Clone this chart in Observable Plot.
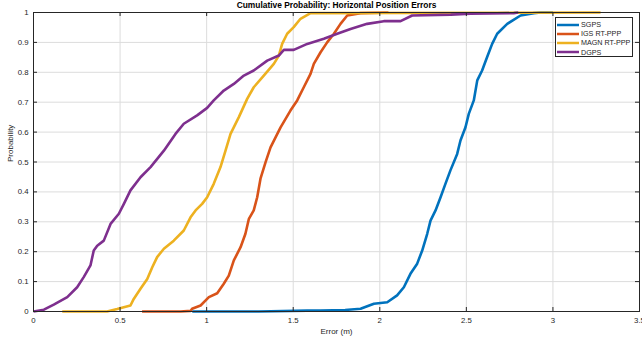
<!DOCTYPE html>
<html>
<head>
<meta charset="utf-8">
<script src="https://cdn.jsdelivr.net/npm/d3@7"></script>
<script src="https://cdn.jsdelivr.net/npm/@observablehq/plot@0.6"></script>
<style>
  body { margin: 0; background: #fff; font-family: "Liberation Sans", Arial, sans-serif; }
  #wrap { position: relative; width: 642px; height: 338px; }
  #legend { position: absolute; left: 555px; top: 17px; width: 78px; height: 40px; border: 1px solid #262626; background: #fff; box-sizing: border-box; padding-top: 2px; overflow: hidden; }
  .row { display: flex; align-items: center; height: 9.2px; font-size: 7.2px; color: #262626; line-height: 9px; white-space: nowrap; }
  .row svg { margin-left: 1px; margin-right: 2px; flex: none; }
</style>
</head>
<body>
<div id="wrap"></div>
<script>
const title = "Cumulative Probability: Horizontal Position Errors";
const xLabel = "Error (m)";
const yLabel = "Probability";
const xTicks = [0, 0.5, 1, 1.5, 2, 2.5, 3, 3.5];
const xTickLabels = ["0", "0.5", "1", "1.5", "2", "2.5", "3", "3.5"];
const yTicks = [0, 0.1, 0.2, 0.3, 0.4, 0.5, 0.6, 0.7, 0.8, 0.9, 1];
const yTickLabels = ["0", "0.1", "0.2", "0.3", "0.4", "0.5", "0.6", "0.7", "0.8", "0.9", "1"];

const seriesNames = ["SGPS", "IGS RT-PPP", "MAGN RT-PPP", "DGPS"];
const seriesColors = ["#0072BD", "#D95319", "#EDB120", "#7E2F8E"];

const sgpsX = [0.917, 1.3, 1.58, 1.658, 1.8, 1.889, 1.966, 2.043, 2.1, 2.139, 2.177, 2.216, 2.245, 2.274, 2.293, 2.322, 2.351, 2.379, 2.408, 2.447, 2.466, 2.495, 2.514, 2.543, 2.563, 2.591, 2.62, 2.649, 2.678, 2.736, 2.813, 2.89, 2.93, 3.0];
const sgpsY = [0, 0, 0.003, 0.003, 0.005, 0.009, 0.026, 0.031, 0.054, 0.081, 0.126, 0.16, 0.204, 0.26, 0.304, 0.338, 0.382, 0.427, 0.472, 0.527, 0.572, 0.616, 0.661, 0.706, 0.773, 0.806, 0.851, 0.895, 0.929, 0.962, 0.99, 0.998, 1, 1];

const igsX = [0.627, 0.85, 0.907, 0.916, 0.965, 1.013, 1.061, 1.099, 1.128, 1.157, 1.196, 1.224, 1.244, 1.272, 1.292, 1.311, 1.34, 1.369, 1.427, 1.484, 1.523, 1.561, 1.6, 1.619, 1.658, 1.696, 1.735, 1.773, 1.812, 1.889, 2.05];
const igsY = [0, 0, 0.002, 0.009, 0.02, 0.048, 0.061, 0.093, 0.12, 0.171, 0.215, 0.26, 0.31, 0.338, 0.382, 0.444, 0.499, 0.549, 0.616, 0.672, 0.706, 0.75, 0.795, 0.828, 0.867, 0.9, 0.929, 0.962, 0.99, 0.998, 1];

const magnX = [0.166, 0.425, 0.483, 0.56, 0.579, 0.618, 0.657, 0.686, 0.714, 0.753, 0.81, 0.868, 0.907, 0.936, 0.974, 1.003, 1.041, 1.08, 1.109, 1.138, 1.186, 1.234, 1.272, 1.33, 1.388, 1.417, 1.436, 1.465, 1.503, 1.542, 1.6, 3.275];
const magnY = [0, 0, 0.008, 0.02, 0.042, 0.076, 0.109, 0.148, 0.182, 0.21, 0.237, 0.271, 0.315, 0.338, 0.36, 0.382, 0.427, 0.483, 0.538, 0.594, 0.65, 0.711, 0.75, 0.789, 0.828, 0.856, 0.895, 0.929, 0.951, 0.979, 0.998, 1];

const dgpsX = [0, 0.06, 0.117, 0.195, 0.252, 0.29, 0.329, 0.348, 0.368, 0.406, 0.445, 0.493, 0.522, 0.56, 0.618, 0.676, 0.753, 0.82, 0.868, 0.945, 1.003, 1.041, 1.099, 1.157, 1.215, 1.272, 1.35, 1.417, 1.446, 1.503, 1.581, 1.677, 1.754, 1.831, 1.927, 2.023, 2.12, 2.187, 2.41, 2.524, 2.774, 2.8];
const dgpsY = [0, 0.006, 0.023, 0.048, 0.081, 0.115, 0.154, 0.204, 0.22, 0.237, 0.293, 0.327, 0.36, 0.405, 0.449, 0.483, 0.538, 0.594, 0.628, 0.656, 0.681, 0.706, 0.739, 0.761, 0.789, 0.806, 0.839, 0.856, 0.875, 0.875, 0.895, 0.912, 0.929, 0.945, 0.962, 0.971, 0.971, 0.99, 0.993, 0.996, 0.998, 1];

const allX = [sgpsX, igsX, magnX, dgpsX];
const allY = [sgpsY, igsY, magnY, dgpsY];
const rows = [];
seriesNames.forEach((name, s) => {
  allX[s].forEach((x, i) => rows.push({series: name, x, y: allY[s][i]}));
});

const W = 642, H = 338, mL = 33, mR = 3, mT = 12, mB = 27;
const innerW = W - mL - mR, innerH = H - mT - mB;
const ink = "#262626";

const chart = Plot.plot({
  width: W, height: H,
  marginLeft: mL, marginRight: mR, marginTop: mT, marginBottom: mB,
  style: {fontFamily: "'Liberation Sans', Arial, sans-serif", fontSize: "7.8px", color: ink, background: "#fff"},
  x: {domain: [0, 3.5], label: null},
  y: {domain: [0, 1], label: null},
  color: {domain: seriesNames, range: seriesColors},
  marks: [
    Plot.gridX(xTicks, {stroke: "#dcdcdc", strokeOpacity: 1}),
    Plot.gridY(yTicks, {stroke: "#dcdcdc", strokeOpacity: 1}),
    Plot.line(rows, {x: "x", y: "y", z: "series", stroke: "series", strokeWidth: 2.6, strokeLinejoin: "round", strokeLinecap: "butt"}),
    Plot.frame({stroke: ink, strokeWidth: 1}),
    Plot.tickX(xTicks, {x: d => d, insetTop: innerH - 4, stroke: ink}),
    Plot.tickX(xTicks, {x: d => d, insetBottom: innerH - 4, stroke: ink}),
    Plot.tickY(yTicks, {y: d => d, insetRight: innerW - 4, stroke: ink}),
    Plot.tickY(yTicks, {y: d => d, insetLeft: innerW - 4, stroke: ink}),
    Plot.axisX(xTicks, {tickSize: 0, tickPadding: 6, tickFormat: d => xTickLabels[xTicks.indexOf(d)], fill: ink, label: null}),
    Plot.axisY(yTicks, {tickSize: 0, tickPadding: 5, tickFormat: d => yTickLabels[yTicks.indexOf(d)], fill: ink, label: null}),
    Plot.text([title], {frameAnchor: "top", lineAnchor: "middle", dy: -7, fontWeight: "bold", fontSize: 8.4, fill: "#000"}),
    Plot.text([xLabel], {frameAnchor: "bottom", lineAnchor: "middle", dy: 20, fontSize: 8, fill: ink}),
    Plot.text([yLabel], {frameAnchor: "left", lineAnchor: "middle", rotate: -90, dx: -23, fontSize: 8, fill: ink})
  ]
});
const wrap = document.getElementById("wrap");
wrap.appendChild(chart);

const legend = document.createElement("div");
legend.id = "legend";
seriesNames.forEach((name, i) => {
  const row = document.createElement("div");
  row.className = "row";
  row.innerHTML = `<svg width="22" height="4"><line x1="0" y1="2" x2="22" y2="2" stroke="${seriesColors[i]}" stroke-width="2.5"/></svg><span>${name}</span>`;
  legend.appendChild(row);
});
wrap.appendChild(legend);
</script>
</body>
</html>
